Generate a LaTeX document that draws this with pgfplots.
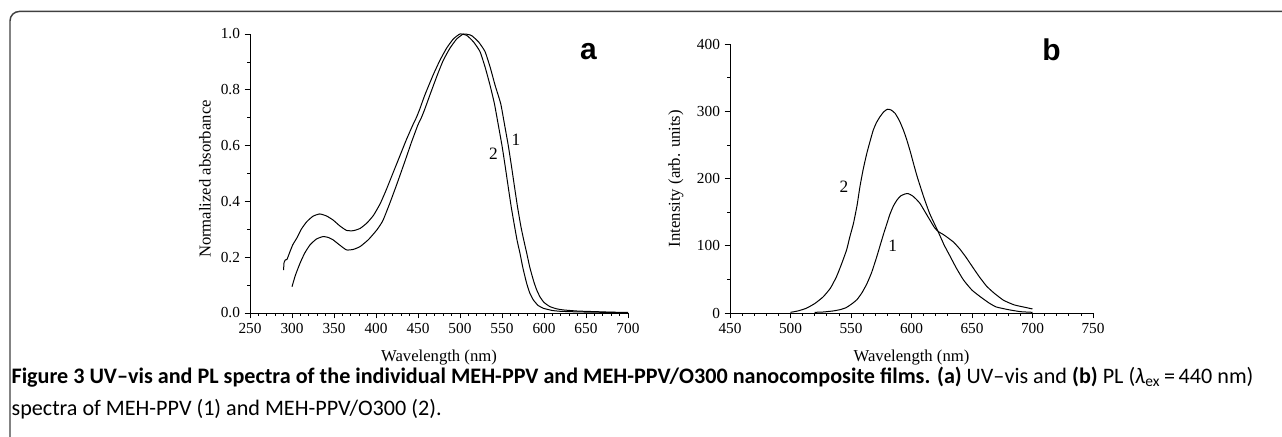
\documentclass[border=0pt]{standalone}
\usepackage{fontspec}
\setmainfont{Liberation Serif}
\newfontfamily\capfont{Carlito}
\newfontfamily\panelfont{Liberation Sans}
\usepackage{pgfplots}
\pgfplotsset{compat=1.18}

% UV-vis, normalized absorbance
\pgfplotstableread{
x y
290 0.154
290.5 0.180
292 0.190
294 0.192
297.6 0.220
301 0.245
305.6 0.268
311 0.300
317.5 0.327
325 0.347
333 0.355
341 0.348
349 0.333
357 0.312
365 0.296
373 0.295
381 0.303
389 0.322
397 0.350
405 0.392
412 0.440
420 0.500
428 0.560
436 0.620
444 0.675
448 0.700
452 0.730
458 0.780
468 0.853
476 0.905
484 0.949
492 0.982
500 1.000
508 0.995
516 0.972
523.8 0.937
530 0.880
535.7 0.817
541 0.750
545.6 0.674
550 0.600
553.6 0.530
557.5 0.450
561 0.380
565 0.310
568 0.260
571.4 0.214
575 0.160
579.4 0.106
583 0.072
587.3 0.047
593 0.027
599.2 0.017
610 0.009
620 0.006
640 0.004
660 0.003
680 0.002
700 0.001
}\uvtwo

\pgfplotstableread{
x y
300 0.094
304 0.135
309.5 0.178
315 0.214
321.4 0.244
329 0.265
337 0.274
343 0.271
349 0.262
357 0.243
365 0.226
373 0.228
381 0.238
391 0.263
400.8 0.297
408 0.330
416 0.390
424.6 0.460
434 0.540
442 0.610
450 0.675
454 0.700
458 0.730
464 0.780
473 0.853
480 0.905
488 0.949
496 0.982
504 1.000
510 0.998
514 0.994
522 0.972
529.8 0.937
536 0.880
541.7 0.817
548.5 0.750
553.1 0.674
557.5 0.600
561.1 0.530
565 0.450
568.5 0.380
572.5 0.310
576 0.260
579.4 0.215
583 0.165
587.3 0.118
591 0.085
595.2 0.058
600 0.038
607 0.023
615 0.015
623 0.011
640 0.007
660 0.005
680 0.003
700 0.002
}\uvone

% PL intensity
\pgfplotstableread{
x y
500 1
506 3
513 7
520 14
527 24
533 37
538 54
542 72
546.4 94
549 113
552 133
555 160
557.4 188
560 213
563 237
566 257
568.4 272
571 283
574 292
577 299
580 303
583 302
586.4 297
590 286
593.3 272
596 258
599 240
602 220
605 201
610 173
615 148
622 121
627 101
632 84
637 67
643 49
650 34
657 24
664 15
670 9
680 5
690 2
700 1
}\pltwo

\pgfplotstableread{
x y
520 1
527 1.5
535 3
541 5
546 8
551 14
555 20
559 30
563 43
567 60
571 82
574 100
577 118
579.5 132
582.2 147
585 159
588 168
591 174
594.6 177
597.4 177.5
601 174
604 169
607 163
611 151
615.3 138
619 127
622.2 121
626 117
630 112
635 105
640 95
645 83
651 67
656 54
662 40
668 30
676 19
685 12
695 8
700 6
}\plone

\pgfplotsset{spec/.style={
  scale only axis, axis lines=left,
  axis line style={-, line width=0.6pt},
  tick align=outside, major tick length=4pt, minor tick length=2.2pt,
  tick style={line width=0.5pt, black},
  /pgf/number format/assume math mode=true,
  every tick label/.append style={font=\fontsize{11.5}{12}\selectfont},
  label style={font=\fontsize{12.5}{14}\selectfont},
  enlargelimits=false, clip=false,
  minor x tick num=4,
}}
\tikzset{curve/.style={black, line width=0.75pt, smooth, tension=0.3, mark=none}}

\begin{document}
\begin{tikzpicture}
\path[use as bounding box] (0,0) rectangle (961.5pt,327pt);
\draw[line width=1.1pt, black!75, rounded corners=7pt] (7.5pt,-2pt) -- (7.5pt,318.4pt) -- (975pt,318.4pt);

\begin{axis}[spec,
  at={(187.5pt,92.25pt)}, anchor=south west,
  width=283.5pt, height=209.25pt,
  xmin=250, xmax=700, ymin=0, ymax=1,
  xtick={250,300,...,700},
  ytick={0,0.2,0.4,0.6,0.8,1.0}, minor y tick num=1,
  yticklabel style={/pgf/number format/.cd, fixed, fixed zerofill, precision=1},
  xlabel={Wavelength (nm)}, ylabel={Normalized absorbance},
  xlabel style={at={(axis description cs:0.5,-0.158)}, anchor=center},
  ylabel style={at={(axis description cs:-0.119,0.48)}, anchor=center},
]
\addplot[curve] table {\uvone};
\addplot[curve] table {\uvtwo};
\node[font=\fontsize{13}{14}\selectfont] at (axis cs:566.5,0.62) {1};
\node[font=\fontsize{13}{14}\selectfont] at (axis cs:539.7,0.572) {2};
\node[font=\panelfont\bfseries\fontsize{22.5}{24}\selectfont] at (axis cs:652.8,0.937) {a};
\end{axis}

\begin{axis}[spec,
  at={(547.5pt,92.25pt)}, anchor=south west,
  width=272.25pt, height=201.75pt,
  xmin=450, xmax=750, ymin=0, ymax=400,
  xtick={450,500,...,750},
  ytick={0,100,...,400}, minor y tick num=1,
  xlabel={Wavelength (nm)}, ylabel={Intensity (arb. units)},
  xlabel style={at={(axis description cs:0.5,-0.164)}, anchor=center},
  ylabel style={at={(axis description cs:-0.149,0.5)}, anchor=center},
]
\addplot[curve] table {\plone};
\addplot[curve] table {\pltwo};
\node[font=\fontsize{13}{14}\selectfont] at (axis cs:584.4,99.6) {1};
\node[font=\fontsize{13}{14}\selectfont] at (axis cs:544.2,187) {2};
\node[font=\panelfont\bfseries\fontsize{22.5}{24}\selectfont] at (axis cs:715.8,392) {b};
\end{axis}

\node[anchor=base west, inner sep=0pt, font=\capfont\fontsize{16.6}{18}\selectfont] at (8.5pt,39.5pt)
  {\textbf{Figure 3 UV–vis and PL spectra of the individual MEH-PPV and MEH-PPV/O300 nanocomposite films. (a)} UV–vis and \textbf{(b)} PL (\textit{λ}\textsubscript{ex}\,=\,440 nm)};
\node[anchor=base west, inner sep=0pt, font=\capfont\fontsize{16.6}{18}\selectfont] at (8.5pt,15.5pt)
  {spectra of MEH-PPV (1) and MEH-PPV/O300 (2).};
\end{tikzpicture}
\end{document}
